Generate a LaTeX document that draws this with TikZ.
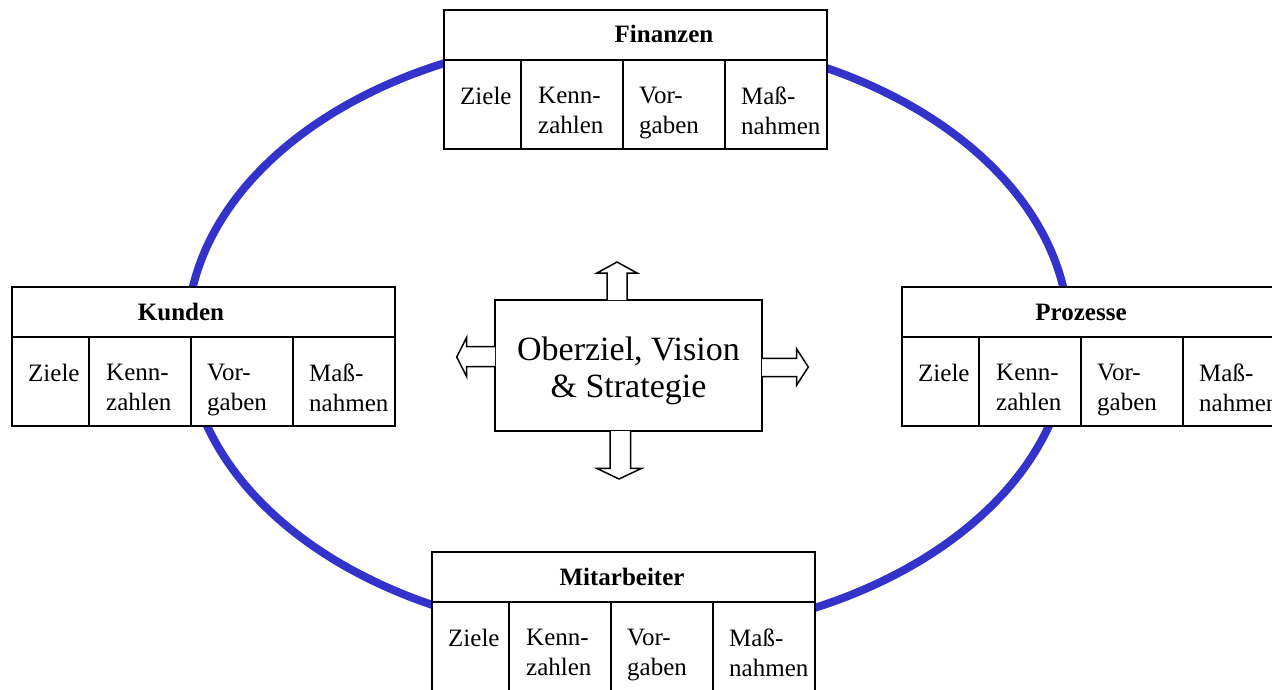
\documentclass[tikz,border=0pt]{standalone}
\usepackage{fontspec}
\setmainfont{Liberation Serif}
\usetikzlibrary{calc}
\definecolor{ringblue}{RGB}{51,51,204}
\tikzset{
  ring/.style={draw=ringblue, line width=8pt},
  framebox/.style={draw=black, line width=1.6pt, fill=white, inner sep=0pt, outer sep=0pt, anchor=north west},
  hdrcell/.style={framebox, minimum height=50pt},
  bodycell/.style={framebox, minimum height=89pt},
  title/.style={font=\fontsize{25}{30}\selectfont\bfseries, anchor=base, inner sep=0pt},
  celltext/.style={font=\fontsize{25}{30}\selectfont, align=left, anchor=north west, inner sep=0pt},
  core/.style={draw=black, line width=1.6pt, fill=white, minimum width=267pt, minimum height=131pt, inner sep=0pt, outer sep=0pt},
  coretext/.style={font=\fontsize{34}{37}\selectfont, align=center, inner sep=0pt},
  hollow/.style={draw=black, line width=1.5pt, fill=white, line join=miter},
}
% one perspective: header with title, then four cells
% #1 name, #2 left x, #3 top y, #4 title, #5 title centre x
\newcommand\perspective[5]{%
  \node[hdrcell, minimum width=383pt] (#1-h) at (#2,#3) {};
  \node[title] (#1-t) at (#5,#3+33) {#4};
  \node[bodycell, minimum width=77pt]  (#1-z) at (#1-h.south west) {};
  \node[bodycell, minimum width=102pt] (#1-k) at (#1-z.north east) {};
  \node[bodycell, minimum width=102pt] (#1-v) at (#1-k.north east) {};
  \node[bodycell, minimum width=102pt] (#1-m) at (#1-v.north east) {};
  \node[celltext] (#1-zt) at ($(#1-z.north west)+(16,27)$) {Ziele};
  \node[celltext] (#1-kt) at ($(#1-k.north west)+(17,27)$) {Kenn-\\zahlen};
  \node[celltext] (#1-vt) at ($(#1-v.north west)+(16,27)$) {Vor-\\gaben};
  \node[celltext] (#1-mt) at ($(#1-m.north west)+(16,27)$) {Maß-\\nahmen};
}
\begin{document}
\begin{tikzpicture}[x=1pt, y=-1pt]
  \fill[white] (0,0) rectangle (1272,690);
  \useasboundingbox (0,0) rectangle (1272,690);
  \clip (0,0) rectangle (1272,690);

  % the ring linking the four perspectives
  \draw[ring] (628,336) ellipse [x radius=441, y radius=300];

  \perspective{fin}{444}{10}{Finanzen}{664}
  \perspective{kun}{12}{287}{Kunden}{181}
  \perspective{pro}{902}{287}{Prozesse}{1081}
  \perspective{mit}{432}{552}{Mitarbeiter}{622}

  % central box
  \node[core] (core) at (628.5,365.5) {};
  \node[coretext] (core-t) at ([yshift=-5pt]core.center) {Oberziel, Vision\\\& Strategie};

  % hollow block arrows leaving the central box
  \draw[hollow] ($(core.north)+(-21.5,0)$) -- ($(core.north)+(-21.5,-27)$)
    -- ($(core.north)+(-31.5,-27)$) -- ($(core.north)+(-11.5,-38)$)
    -- ($(core.north)+(8.5,-27)$) -- ($(core.north)+(-1.5,-27)$)
    -- ($(core.north)+(-1.5,0)$);
  \draw[hollow] ($(core.south)+(-18.5,0)$) -- ($(core.south)+(-18.5,37.3)$)
    -- ($(core.south)+(-31.8,37.3)$) -- ($(core.south)+(-9.5,48)$)
    -- ($(core.south)+(13.2,37.3)$) -- ($(core.south)+(2.2,37.3)$)
    -- ($(core.south)+(2.2,0)$);
  \draw[hollow] ($(core.west)+(0,-18.8)$) -- ($(core.west)+(-28.3,-18.8)$)
    -- ($(core.west)+(-28.3,-28.2)$) -- ($(core.west)+(-38.3,-8.5)$)
    -- ($(core.west)+(-28.3,11.2)$) -- ($(core.west)+(-28.3,1.2)$)
    -- ($(core.west)+(0,1.2)$);
  \draw[hollow] ($(core.east)+(0,-7.2)$) -- ($(core.east)+(34.7,-7.2)$)
    -- ($(core.east)+(34.7,-16.5)$) -- ($(core.east)+(46.3,1.5)$)
    -- ($(core.east)+(34.7,19.5)$) -- ($(core.east)+(34.7,11.2)$)
    -- ($(core.east)+(0,11.2)$);
\end{tikzpicture}
\end{document}
